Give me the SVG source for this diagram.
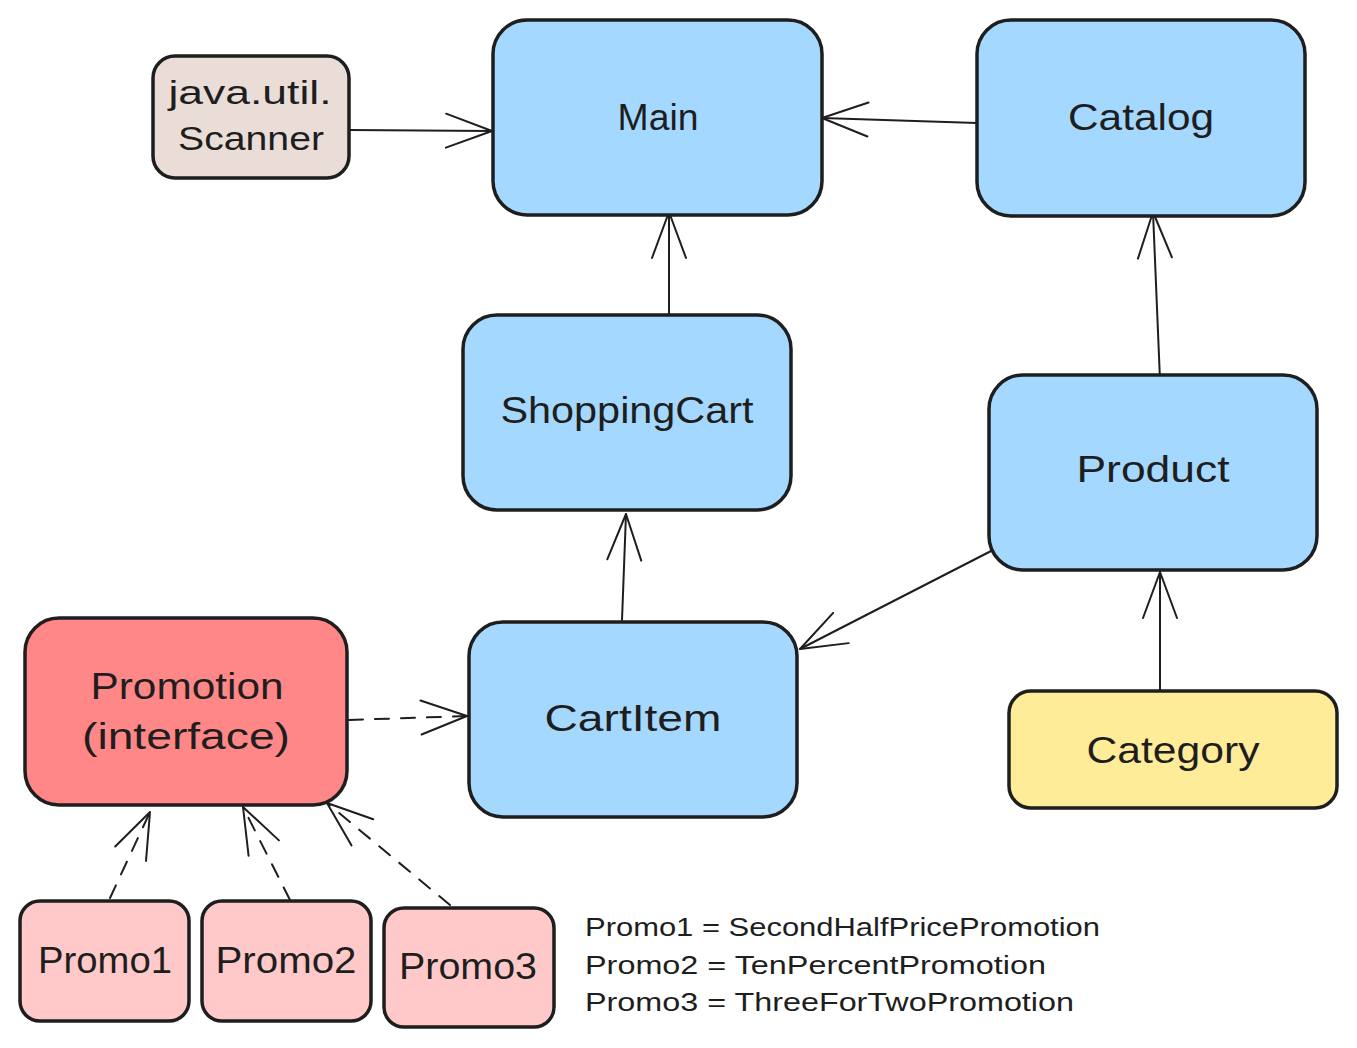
<svg xmlns="http://www.w3.org/2000/svg" width="1357" height="1048" viewBox="0 0 1357 1048">
<style>
.box{stroke:#1e1e1e;stroke-width:3.5}
.blue{fill:#a5d8ff}
.lbl{font-family:"Liberation Sans","DejaVu Sans",sans-serif;fill:#1e1e1e;text-anchor:middle;dominant-baseline:central}
.big{font-size:36px}
.leg{font-family:"Liberation Sans","DejaVu Sans",sans-serif;fill:#1e1e1e;font-size:25px}
.conn{stroke:#1e1e1e;stroke-width:2;fill:none;stroke-linecap:round}
.dash{stroke-dasharray:14 12}
</style>
<defs>
<marker id="ah" viewBox="-50 -22 54 44" refX="0" refY="0" markerWidth="54" markerHeight="44" markerUnits="userSpaceOnUse" orient="auto">
<path d="M-46,-17 L0,0 L-46,17" fill="none" stroke="#1e1e1e" stroke-width="2" stroke-linecap="round" stroke-linejoin="round"/>
</marker>
</defs>
<rect width="1357" height="1048" fill="#ffffff"/>
<g id="connectors">
<path class="conn" d="M349,130 L492,131" marker-end="url(#ah)"/>
<path class="conn" d="M977,123 L822,118" marker-end="url(#ah)"/>
<path class="conn" d="M669,318 L669,212" marker-end="url(#ah)"/>
<path class="conn" d="M1160,380 L1153,212" marker-end="url(#ah)"/>
<path class="conn" d="M622,620 L626,514" marker-end="url(#ah)"/>
<path class="conn" d="M993,550 L800,649" marker-end="url(#ah)"/>
<path class="conn" d="M1160,690 L1160,572" marker-end="url(#ah)"/>
<path class="conn dash" d="M349,720 L467,716" marker-end="url(#ah)"/>
<path class="conn dash" d="M110,898 L150,812" marker-end="url(#ah)"/>
<path class="conn dash" d="M290,900 L243,807" marker-end="url(#ah)"/>
<path class="conn dash" d="M450,905 L327,803" marker-end="url(#ah)"/>
</g>
<g id="scanner">
<rect class="box" x="153" y="56" width="196" height="122" rx="22" fill="#eaddd7"/>
<text class="lbl" x="250" y="92" font-size="33" textLength="163" lengthAdjust="spacingAndGlyphs">java.util.</text>
<text class="lbl" x="251" y="138" font-size="33" textLength="146" lengthAdjust="spacingAndGlyphs">Scanner</text>
</g>
<g id="main">
<rect class="box blue" x="493" y="20" width="329" height="195" rx="34"/>
<text class="lbl big" x="658" y="117" textLength="81" lengthAdjust="spacingAndGlyphs">Main</text>
</g>
<g id="catalog">
<rect class="box blue" x="977" y="20" width="328" height="196" rx="34"/>
<text class="lbl big" x="1141" y="117" textLength="146" lengthAdjust="spacingAndGlyphs">Catalog</text>
</g>
<g id="shoppingcart">
<rect class="box blue" x="463" y="315" width="328" height="195" rx="34"/>
<text class="lbl big" x="627" y="410" textLength="253" lengthAdjust="spacingAndGlyphs">ShoppingCart</text>
</g>
<g id="product">
<rect class="box blue" x="989" y="375" width="328" height="195" rx="34"/>
<text class="lbl big" x="1153" y="469" textLength="153" lengthAdjust="spacingAndGlyphs">Product</text>
</g>
<g id="cartitem">
<rect class="box blue" x="469" y="622" width="328" height="195" rx="34"/>
<text class="lbl big" x="633" y="718" textLength="177" lengthAdjust="spacingAndGlyphs">CartItem</text>
</g>
<g id="promotion">
<rect class="box" x="25" y="618" width="322" height="187" rx="34" fill="#ff8787"/>
<text class="lbl big" x="187" y="686" textLength="193" lengthAdjust="spacingAndGlyphs">Promotion</text>
<text class="lbl big" x="186" y="736" textLength="208" lengthAdjust="spacingAndGlyphs">(interface)</text>
</g>
<g id="category">
<rect class="box" x="1009" y="691" width="328" height="117" rx="22" fill="#ffec99"/>
<text class="lbl big" x="1173" y="750" textLength="173" lengthAdjust="spacingAndGlyphs">Category</text>
</g>
<g id="promo1">
<rect class="box" x="20" y="901" width="169" height="120" rx="20" fill="#ffc9c9"/>
<text class="lbl big" x="105" y="960" textLength="134" lengthAdjust="spacingAndGlyphs">Promo1</text>
</g>
<g id="promo2">
<rect class="box" x="202" y="901" width="169" height="120" rx="20" fill="#ffc9c9"/>
<text class="lbl big" x="286" y="960" textLength="141" lengthAdjust="spacingAndGlyphs">Promo2</text>
</g>
<g id="promo3">
<rect class="box" x="384" y="908" width="170" height="119" rx="20" fill="#ffc9c9"/>
<text class="lbl big" x="468" y="966" textLength="138" lengthAdjust="spacingAndGlyphs">Promo3</text>
</g>
<g id="legend">
<text class="leg" x="585" y="936" textLength="515" lengthAdjust="spacingAndGlyphs">Promo1 = SecondHalfPricePromotion</text>
<text class="leg" x="585" y="974" textLength="461" lengthAdjust="spacingAndGlyphs">Promo2 = TenPercentPromotion</text>
<text class="leg" x="585" y="1011" textLength="489" lengthAdjust="spacingAndGlyphs">Promo3 = ThreeForTwoPromotion</text>
</g>
</svg>
